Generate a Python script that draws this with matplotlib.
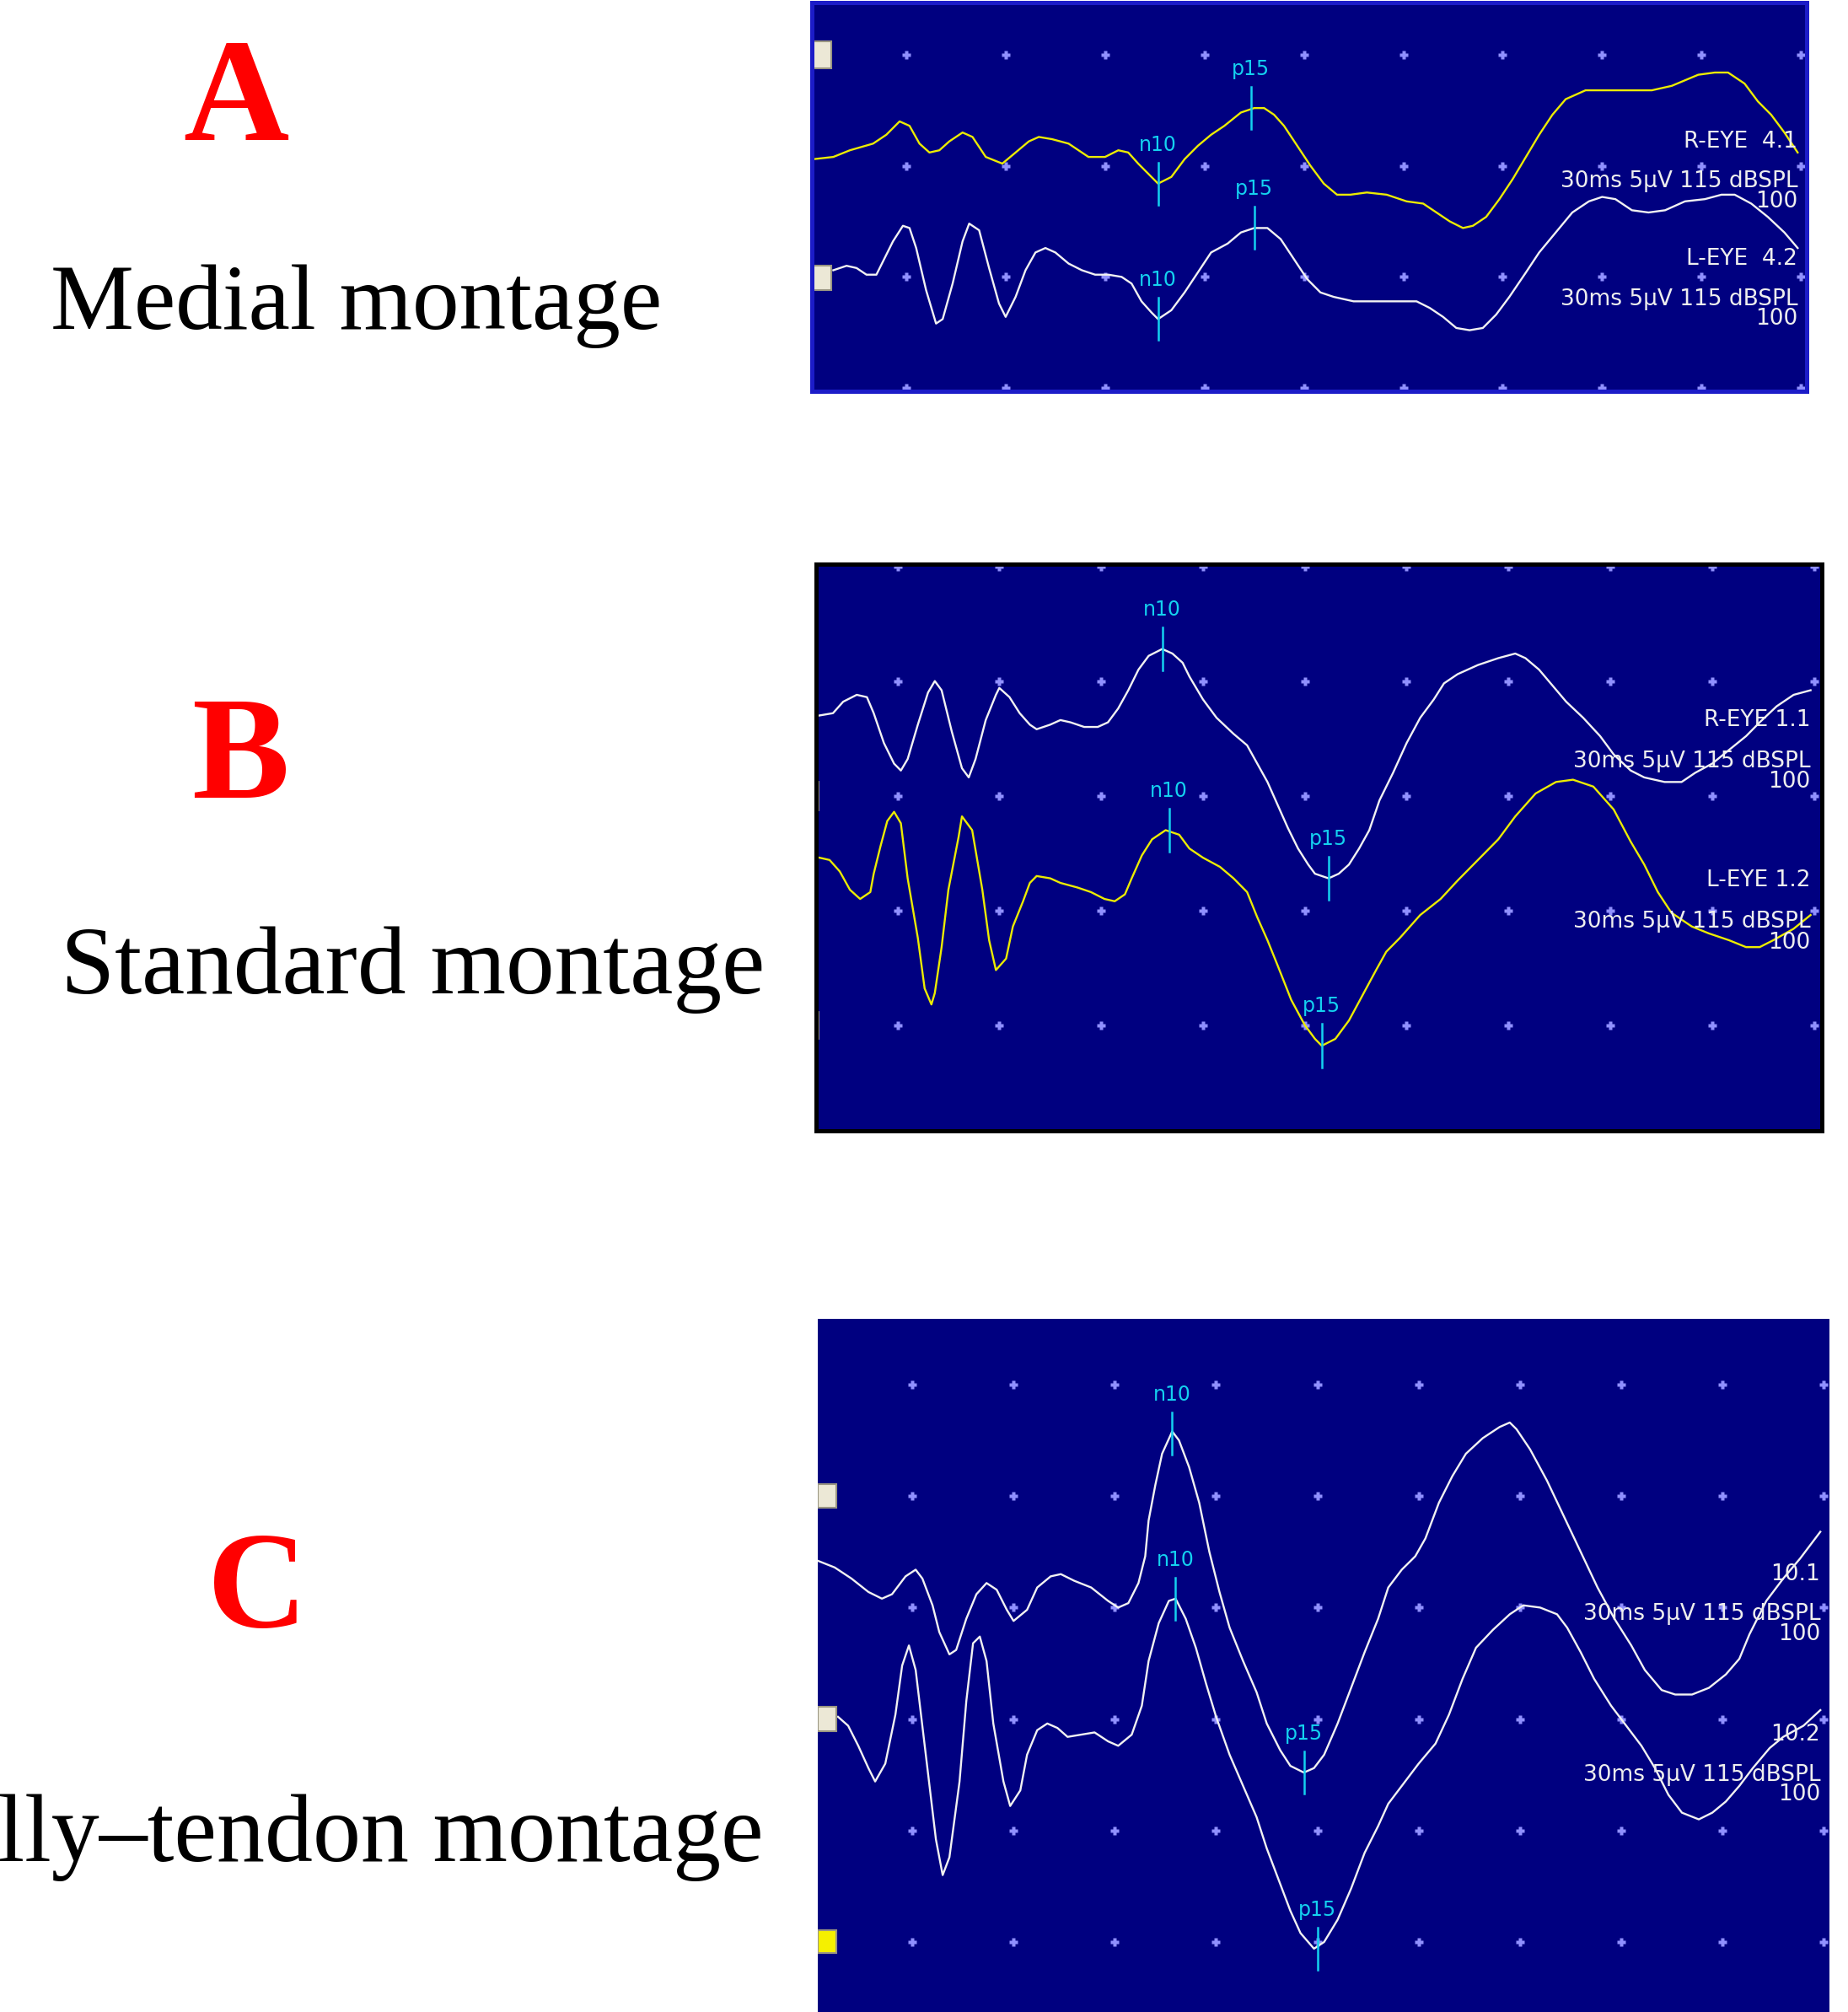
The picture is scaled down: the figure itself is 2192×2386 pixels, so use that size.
import matplotlib
matplotlib.use("Agg")
import matplotlib.pyplot as plt
from matplotlib.patches import Rectangle

W, H = 2192, 2386

NAVY = "#000080"
YELLOW = "#ecec00"
WHITE = "#f2f2f2"
CYAN = "#14d2f0"
DOT = "#9090ff"
TXT = "#eeeeee"
BEIGE = "#ece8d6"

# ---- data: time in ms, amplitude in uV (5 uV/div) ----
grid_ms = [3, 6, 9, 12, 15, 18, 21, 24, 27, 30]
a_rows = [0, 5, 10, 15]
b_rows = [0, 5, 10, 15, 20]
c_rows = [0, 5, 10, 15, 20, 25]

# A - medial montage
a_r_t = [0.2, 0.8, 1.3, 2.0, 2.4, 2.8, 3.1, 3.4, 3.7, 4.0, 4.3, 4.7, 5.0, 5.4, 5.9, 6.3, 6.7, 7.0,
         7.4, 7.9, 8.5, 9.0, 9.4, 9.7, 10.0, 10.4, 10.6, 11.0, 11.4, 11.8, 12.2, 12.6, 13.1, 13.5,
         13.8, 14.1, 14.4, 14.8, 15.2, 15.6, 16.0, 16.4, 16.9, 17.5, 18.1, 18.6, 19.0, 19.4, 19.8,
         20.1, 20.5, 20.9, 21.3, 21.7, 22.1, 22.5, 22.9, 23.5, 24.3, 24.9, 25.5, 26.1, 26.9, 27.4,
         27.8, 28.3, 28.7, 29.1, 29.5, 29.9]
a_r_v = [10.3, 10.4, 10.7, 11.0, 11.4, 12.0, 11.8, 11.0, 10.6, 10.7, 11.1, 11.5, 11.3, 10.4, 10.1,
         10.6, 11.1, 11.3, 11.2, 11.0, 10.4, 10.4, 10.7, 10.6, 10.1, 9.5, 9.2, 9.5, 10.3, 10.9, 11.4,
         11.8, 12.4, 12.6, 12.6, 12.3, 11.8, 10.9, 10.0, 9.2, 8.7, 8.7, 8.8, 8.7, 8.4, 8.3, 7.9, 7.5,
         7.2, 7.3, 7.7, 8.5, 9.4, 10.4, 11.4, 12.3, 13.0, 13.4, 13.4, 13.4, 13.4, 13.6, 14.1, 14.2,
         14.2, 13.7, 12.9, 12.3, 11.5, 10.6]
a_l_t = [0.8, 1.2, 1.5, 1.8, 2.1, 2.3, 2.6, 2.9, 3.1, 3.3, 3.6, 3.9, 4.1, 4.4, 4.7, 4.9, 5.2, 5.5,
         5.8, 6.0, 6.3, 6.6, 6.9, 7.2, 7.5, 7.9, 8.3, 8.7, 9.1, 9.5, 9.8, 10.1, 10.4, 10.6, 11.0,
         11.4, 11.8, 12.2, 12.7, 13.1, 13.5, 13.9, 14.3, 14.7, 15.1, 15.5, 15.9, 16.5, 17.3, 17.9,
         18.4, 18.8, 19.2, 19.6, 20.0, 20.4, 20.8, 21.2, 21.7, 22.1, 22.6, 23.1, 23.6, 24.0, 24.4,
         24.9, 25.4, 25.9, 26.5, 27.1, 27.6, 28.0, 28.5, 29.0, 29.5, 29.9]
a_l_v = [5.3, 5.5, 5.4, 5.1, 5.1, 5.7, 6.6, 7.3, 7.2, 6.3, 4.4, 2.9, 3.1, 4.7, 6.6, 7.4, 7.1, 5.4,
         3.8, 3.2, 4.1, 5.3, 6.1, 6.3, 6.1, 5.6, 5.3, 5.1, 5.1, 5.0, 4.7, 3.9, 3.4, 3.1, 3.5, 4.3,
         5.2, 6.1, 6.5, 7.0, 7.2, 7.2, 6.7, 5.8, 4.9, 4.3, 4.1, 3.9, 3.9, 3.9, 3.9, 3.6, 3.2, 2.7,
         2.6, 2.7, 3.3, 4.1, 5.2, 6.1, 7.0, 7.9, 8.4, 8.6, 8.5, 8.0, 7.9, 8.0, 8.4, 8.5, 8.7, 8.7,
         8.3, 7.7, 7.0, 6.3]
a_r_peaks = [("n10", 10.6, 9.2), ("p15", 13.4, 12.6)]
a_l_peaks = [("n10", 10.6, 3.1), ("p15", 13.5, 7.2)]

# B - standard montage
b_r_t = [0.7, 1.1, 1.4, 1.8, 2.1, 2.3, 2.6, 2.9, 3.1, 3.3, 3.6, 3.9, 4.1, 4.3, 4.6, 4.9, 5.1, 5.3,
         5.6, 5.9, 6.0, 6.3, 6.6, 6.9, 7.1, 7.5, 7.8, 8.1, 8.5, 8.9, 9.2, 9.5, 9.8, 10.1, 10.4,
         10.8, 11.1, 11.4, 11.6, 12.0, 12.4, 12.9, 13.3, 13.6, 13.9, 14.2, 14.5, 14.8, 15.1, 15.3,
         15.7, 16.0, 16.3, 16.6, 16.9, 17.2, 17.6, 18.0, 18.4, 18.8, 19.1, 19.5, 20.1, 20.7, 21.2,
         21.5, 21.9, 22.3, 22.7, 23.2, 23.7, 24.1, 24.6, 25.0, 25.6, 26.1, 26.5, 27.0, 27.5, 28.0,
         28.4, 28.9, 29.4, 29.9]
b_r_v = [13.5, 13.6, 14.1, 14.4, 14.3, 13.6, 12.3, 11.4, 11.1, 11.6, 13.1, 14.5, 15.0, 14.6, 12.8,
         11.2, 10.8, 11.6, 13.3, 14.4, 14.7, 14.3, 13.6, 13.1, 12.9, 13.1, 13.3, 13.2, 13.0, 13.0,
         13.2, 13.8, 14.6, 15.5, 16.1, 16.4, 16.2, 15.8, 15.2, 14.2, 13.4, 12.7, 12.2, 11.4, 10.6,
         9.6, 8.6, 7.7, 7.0, 6.6, 6.4, 6.6, 7.0, 7.7, 8.5, 9.8, 11.0, 12.3, 13.4, 14.2, 14.9, 15.3,
         15.7, 16.0, 16.2, 16.0, 15.5, 14.8, 14.1, 13.4, 12.6, 11.8, 11.1, 10.8, 10.6, 10.6, 11.0,
         11.4, 12.0, 12.6, 13.2, 13.9, 14.4, 14.6]
b_l_t = [0.7, 1.0, 1.3, 1.6, 1.9, 2.2, 2.3, 2.5, 2.7, 2.9, 3.1, 3.3, 3.6, 3.8, 4.0, 4.1, 4.3, 4.5,
         4.8, 4.9, 5.2, 5.5, 5.7, 5.9, 6.2, 6.4, 6.7, 6.9, 7.1, 7.5, 7.8, 8.3, 8.7, 9.1, 9.4, 9.7,
         9.9, 10.2, 10.5, 10.9, 11.3, 11.6, 12.0, 12.5, 12.9, 13.3, 13.6, 13.9, 14.2, 14.6, 15.0,
         15.3, 15.5, 15.9, 16.3, 16.7, 17.1, 17.4, 17.8, 18.4, 19.0, 19.5, 20.1, 20.7, 21.2, 21.8,
         22.4, 22.9, 23.5, 24.1, 24.6, 25.0, 25.4, 25.8, 26.4, 26.9, 27.5, 28.0, 28.4, 28.8, 29.4,
         29.9]
b_l_v = [7.3, 7.2, 6.7, 5.9, 5.5, 5.8, 6.6, 7.8, 8.9, 9.3, 8.8, 6.4, 3.8, 1.6, 0.9, 1.4, 3.4, 5.9,
         8.2, 9.1, 8.5, 5.9, 3.7, 2.4, 2.9, 4.3, 5.4, 6.2, 6.5, 6.4, 6.2, 6.0, 5.8, 5.5, 5.4, 5.7,
         6.4, 7.4, 8.1, 8.5, 8.3, 7.7, 7.3, 6.9, 6.4, 5.8, 4.7, 3.7, 2.6, 1.1, 0.0, -0.6, -0.9,
         -0.6, 0.2, 1.3, 2.4, 3.2, 3.8, 4.8, 5.5, 6.3, 7.2, 8.1, 9.1, 10.1, 10.6, 10.7, 10.4, 9.4,
         8.0, 7.0, 5.8, 4.9, 4.3, 4.0, 3.7, 3.4, 3.4, 3.7, 4.2, 4.8]
b_r_peaks = [("n10", 10.8, 16.4), ("p15", 15.7, 6.4)]
b_l_peaks = [("n10", 11.0, 8.5), ("p15", 15.5, -0.9)]

# C - belly-tendon montage
c_1_t = [0.2, 0.7, 1.2, 1.7, 2.1, 2.4, 2.8, 3.1, 3.3, 3.6, 3.8, 4.1, 4.3, 4.6, 4.9, 5.2, 5.5, 5.8,
         6.0, 6.4, 6.7, 7.1, 7.4, 7.8, 8.3, 8.8, 9.1, 9.4, 9.7, 9.9, 10.0, 10.2, 10.4, 10.7, 10.9,
         11.2, 11.5, 11.8, 12.1, 12.4, 12.8, 13.2, 13.5, 13.9, 14.2, 14.6, 14.9, 15.2, 15.6, 16.0,
         16.4, 16.8, 17.1, 17.5, 17.9, 18.2, 18.6, 19.0, 19.4, 19.9, 20.4, 20.7, 20.9, 21.3, 21.8,
         22.3, 22.8, 23.3, 23.8, 24.3, 24.7, 25.2, 25.6, 26.1, 26.6, 27.1, 27.5, 27.8, 28.3, 28.8,
         29.3, 29.9]
c_1_v = [17.1, 16.8, 16.3, 15.7, 15.4, 15.6, 16.4, 16.7, 16.3, 15.1, 13.9, 12.9, 13.1, 14.5, 15.6,
         16.1, 15.8, 14.9, 14.4, 14.9, 15.9, 16.4, 16.5, 16.2, 15.9, 15.3, 15.0, 15.2, 16.1, 17.3,
         18.9, 20.5, 21.9, 22.9, 22.5, 21.3, 19.7, 17.5, 15.7, 14.1, 12.6, 11.2, 9.8, 8.6, 7.9, 7.6,
         7.8, 8.4, 9.8, 11.4, 13.0, 14.5, 15.9, 16.7, 17.3, 18.1, 19.7, 20.9, 21.9, 22.6, 23.1, 23.3,
         23.0, 22.1, 20.7, 19.1, 17.5, 15.9, 14.5, 13.3, 12.2, 11.3, 11.1, 11.1, 11.4, 12.0, 12.7,
         13.8, 15.3, 16.3, 17.2, 18.4]
c_2_t = [0.8, 1.1, 1.4, 1.7, 1.9, 2.2, 2.5, 2.7, 2.9, 3.1, 3.4, 3.7, 3.9, 4.1, 4.4, 4.6, 4.8, 5.0,
         5.2, 5.4, 5.7, 5.9, 6.2, 6.4, 6.7, 7.0, 7.3, 7.6, 8.0, 8.4, 8.8, 9.1, 9.5, 9.8, 10.0, 10.3,
         10.6, 10.8, 11.1, 11.4, 11.7, 12.0, 12.4, 12.8, 13.2, 13.5, 13.9, 14.2, 14.5, 14.9, 15.2,
         15.6, 16.0, 16.4, 16.8, 17.1, 17.6, 18.0, 18.5, 18.9, 19.3, 19.7, 20.2, 20.7, 21.1, 21.6,
         22.1, 22.4, 22.8, 23.2, 23.7, 24.2, 24.6, 25.0, 25.4, 25.8, 26.3, 26.7, 27.1, 27.5, 27.9,
         28.4, 28.8, 29.4, 29.9]
c_2_v = [10.1, 9.7, 8.8, 7.8, 7.2, 8.0, 10.2, 12.4, 13.3, 12.2, 8.4, 4.6, 3.0, 3.8, 7.2, 10.8, 13.4,
         13.7, 12.6, 9.8, 7.2, 6.1, 6.8, 8.4, 9.5, 9.8, 9.6, 9.2, 9.3, 9.4, 9.0, 8.8, 9.3, 10.6,
         12.6, 14.3, 15.3, 15.4, 14.5, 13.2, 11.6, 10.1, 8.4, 7.0, 5.6, 4.2, 2.6, 1.4, 0.4, -0.3,
         0.0, 1.0, 2.4, 4.0, 5.2, 6.2, 7.2, 8.0, 8.9, 10.2, 11.8, 13.2, 14.0, 14.7, 15.1, 15.0,
         14.7, 14.1, 13.0, 11.8, 10.6, 9.6, 8.8, 7.8, 6.6, 5.8, 5.5, 5.8, 6.3, 7.0, 7.8, 8.7, 9.2,
         9.7, 10.4]
c_1_peaks = [("n10", 10.7, 22.8), ("p15", 14.6, 7.6)]
c_2_peaks = [("n10", 10.8, 15.4), ("p15", 15.0, -0.3)]

settings = "30ms 5µV 115 dBSPL"
sweeps = "100"

fig = plt.figure(figsize=(W / 100, H / 100), dpi=100)
fig.patch.set_facecolor("white")


def px(x0, y0, x1, y1):
    return [x0 / W, 1 - y1 / H, (x1 - x0) / W, (y1 - y0) / H]


def panel(box, xlim, ylim, rows, border=None, bw=0):
    ax = fig.add_axes(px(*box))
    ax.set_facecolor(NAVY)
    ax.set_xlim(*xlim)
    ax.set_ylim(*ylim)
    ax.set_xticks([])
    ax.set_yticks([])
    for s in ax.spines.values():
        if border:
            s.set_color(border)
            s.set_linewidth(bw)
            s.set_zorder(10)
        else:
            s.set_visible(False)
    for y in rows:
        ax.plot(grid_ms, [y] * len(grid_ms), ls="none", marker="P", ms=7,
                color=DOT, mec="none", zorder=1)
    return ax


def trace(ax, t, v, color, peaks):
    ax.plot(t, v, color=color, lw=1.7, zorder=3, solid_joinstyle="round")
    for name, lat, amp in peaks:
        ax.plot([lat, lat], [amp - 0.95, amp + 0.95], color=CYAN, lw=1.8, zorder=4)
        ax.annotate(name, (lat, amp + 0.95), xytext=(0, 10), textcoords="offset points",
                    ha="center", va="baseline", color=CYAN, fontsize=17,
                    family="DejaVu Sans", zorder=5)


def channel_text(ax, y, name):
    for dy, s in ((0, name), (-1.8, settings), (-2.7, sweeps)):
        ax.text(29.9, y + dy, s, ha="right", va="center", color=TXT, fontsize=19,
                family="DejaVu Sans", zorder=6)


def chip(ax, t0, t1, y0, y1, color):
    ax.add_patch(Rectangle((t0, y0), t1 - t0, y1 - y0, facecolor=color,
                           edgecolor="#9a9682", lw=1.5, zorder=7))


# panel A
ax_a = panel((962.5, 2.5, 2142.5, 463.5), (0.14, 30.16), (-0.13, 17.37), a_rows,
             border="#1c1cc8", bw=3.6)
trace(ax_a, a_r_t, a_r_v, YELLOW, a_r_peaks)
trace(ax_a, a_l_t, a_l_v, WHITE, a_l_peaks)
channel_text(ax_a, 11.1, "R-EYE  4.1")
channel_text(ax_a, 5.8, "L-EYE  4.2")
chip(ax_a, 0.14, 0.74, 14.4, 15.6, BEIGE)
chip(ax_a, 0.14, 0.74, 4.4, 5.5, BEIGE)

# panel B
ax_b = panel((967.5, 669.5, 2160.5, 1340.5), (0.59, 30.22), (-4.59, 20.08), b_rows,
             border="black", bw=3.6)
trace(ax_b, b_r_t, b_r_v, WHITE, b_r_peaks)
trace(ax_b, b_l_t, b_l_v, YELLOW, b_l_peaks)
channel_text(ax_b, 13.3, "R-EYE 1.1")
channel_text(ax_b, 6.3, "L-EYE 1.2")
ax_b.plot([0.66, 0.66], [9.4, 10.6], color="#b4ac94", lw=2, zorder=7)
ax_b.plot([0.66, 0.66], [-0.56, 0.58], color="#b4ac94", lw=2, zorder=7)

# panel C
ax_c = panel((970, 1564, 2170, 2386), (0.2, 30.17), (-3.14, 27.95), c_rows)
trace(ax_c, c_1_t, c_1_v, WHITE, c_1_peaks)
trace(ax_c, c_2_t, c_2_v, WHITE, c_2_peaks)
channel_text(ax_c, 16.5, "10.1")
channel_text(ax_c, 9.3, "10.2")
chip(ax_c, 0.2, 0.75, 19.47, 20.53, BEIGE)
chip(ax_c, 0.2, 0.75, 9.45, 10.55, BEIGE)
chip(ax_c, 0.2, 0.75, -0.49, 0.53, "#f5f000")

# left-hand labels
for letter, x, y, size in (("A", 280, 166, 125), ("B", 285, 946, 125), ("C", 305, 1929, 118)):
    fig.text(x / W, 1 - y / H, letter, ha="center", va="baseline", color="#ff0000",
             fontsize=size, fontweight="bold", family="Liberation Serif")

fig.text(60 / W, 1 - 390 / H, "Medial montage", ha="left", va="baseline",
         fontsize=80, family="Liberation Serif", color="black")
fig.text(72 / W, 1 - 1178 / H, "Standard montage", ha="left", va="baseline",
         fontsize=83, family="Liberation Serif", color="black")
# the source figure is cropped on the left, cutting into this label
fig.text(906 / W, 1 - 2207 / H, "Belly\u2013tendon montage", ha="right", va="baseline",
         fontsize=82, family="Liberation Serif", color="black")

fig.savefig("out.png", dpi=100, facecolor="white")
